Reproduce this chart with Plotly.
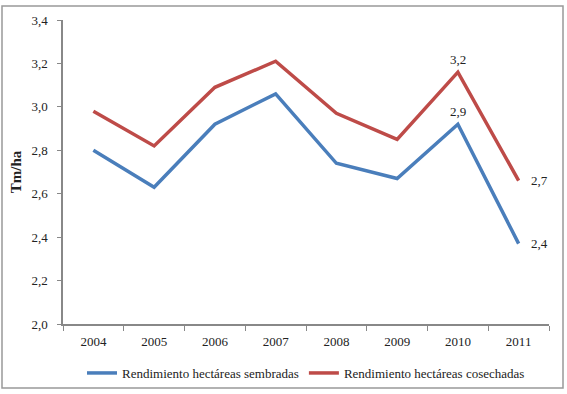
import plotly.graph_objects as go

years = ["2004", "2005", "2006", "2007", "2008", "2009", "2010", "2011"]
sembradas = [2.80, 2.63, 2.92, 3.06, 2.74, 2.67, 2.92, 2.37]
cosechadas = [2.98, 2.82, 3.09, 3.21, 2.97, 2.85, 3.16, 2.66]
label_sem = ["", "", "", "", "", "", "2,9", "2,4"]
label_cos = ["", "", "", "", "", "", "3,2", "2,7"]

FONT = "Liberation Serif"
BLUE = "#4a7ebb"
RED = "#be4b48"

xpos = list(range(len(years)))

fig = go.Figure()
fig.add_trace(go.Scatter(
    x=xpos, y=sembradas, mode="lines", name="Rendimiento hectáreas sembradas",
    line=dict(color=BLUE, width=3.5),
))
fig.add_trace(go.Scatter(
    x=xpos, y=cosechadas, mode="lines", name="Rendimiento hectáreas cosechadas",
    line=dict(color=RED, width=3.5),
))

annotations = []
for series, labels in ((sembradas, label_sem), (cosechadas, label_cos)):
    n = len(years)
    for i, (val, lab) in enumerate(zip(series, labels)):
        if not lab:
            continue
        last = i == n - 1
        annotations.append(dict(
            x=xpos[i], y=val, xref="x", yref="y", text=lab, showarrow=False,
            xanchor="left" if last else "center",
            yanchor="middle" if last else "bottom",
            xshift=10 if last else 0, yshift=0 if last else 3,
            font=dict(family=FONT, size=13, color="#222"),
        ))

PLOT_H = 394 - 20 - 70
PLOT_W = 567 - 63 - 18

fig.update_layout(
    width=567, height=394,
    margin=dict(l=63, r=18, t=20, b=70, autoexpand=False),
    paper_bgcolor="white", plot_bgcolor="white",
    separators=",.",
    font=dict(family=FONT, size=13, color="#222"),
    showlegend=True,
    legend=dict(orientation="h", x=0.5, xanchor="center", y=-49 / PLOT_H, yanchor="middle",
                bgcolor="rgba(0,0,0,0)", itemwidth=30,
                font=dict(family=FONT, size=13), traceorder="normal"),
    xaxis=dict(range=[-0.5, len(years) - 0.5], tickvals=xpos, ticktext=years,
               automargin=False,
               showline=True, linecolor="#888", linewidth=1.5,
               ticks="outside", ticklen=5, tickcolor="rgba(0,0,0,0)",
               minor=dict(ticks="outside", tick0=-0.5, dtick=1, ticklen=5,
                          tickcolor="#888", showgrid=False),
               showgrid=False, zeroline=False, tickfont=dict(family=FONT, size=13)),
    yaxis=dict(range=[2.0, 3.4], dtick=0.2, tickformat=".1f", showline=True,
               automargin=False,
               linecolor="#888", linewidth=1.5, ticks="outside", ticklen=4, tickcolor="#888",
               ticklabelstandoff=7,
               showgrid=False, zeroline=False, tickfont=dict(family=FONT, size=13),
               title=dict(text="<b>Tm/ha</b>", font=dict(family=FONT, size=15), standoff=6)),
    annotations=annotations,
    shapes=[dict(type="rect", xref="paper", yref="paper",
                 x0=(2 - 63) / PLOT_W, x1=(563 - 63) / PLOT_W,
                 y0=-(388 - 324) / PLOT_H, y1=1 + (20 - 6) / PLOT_H,
                 line=dict(color="#999", width=1.5), fillcolor="rgba(0,0,0,0)")],
)

fig.write_html("out.html", config={"displayModeBar": False},
               post_script="document.body.style.margin='0';document.body.style.overflow='hidden';")
